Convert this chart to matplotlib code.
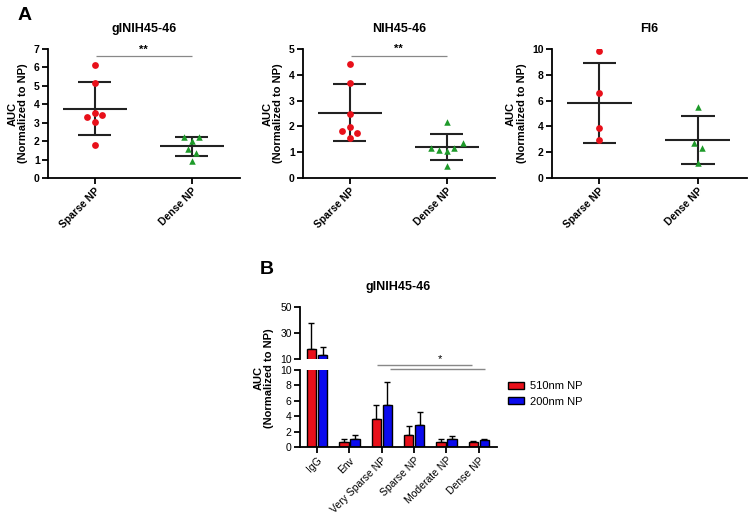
import numpy as np
import matplotlib
matplotlib.use("Agg")
import matplotlib.pyplot as plt
from matplotlib.patches import Patch

plt.rcParams['font.family'] = ['Liberation Sans', 'DejaVu Sans']

RED = "#e8101a"
GREEN = "#1e9a2a"
BLUE = "#0b0bee"

# --- Panel A data ---
groups = ["Sparse NP", "Dense NP"]
titles_a = ["gINIH45-46", "NIH45-46", "FI6"]

ginih_sparse = [6.13, 5.18, 3.52, 3.33, 3.42, 3.03, 1.78]
ginih_dense = [2.22, 2.20, 2.00, 1.60, 1.37, 0.94]
nih_sparse = [4.42, 3.70, 2.49, 1.97, 1.84, 1.75, 1.55]
nih_dense = [2.16, 1.35, 1.16, 1.07, 1.03, 1.16, 0.48]
fi6_sparse = [9.87, 6.62, 3.87, 2.96]
fi6_dense = [5.52, 2.70, 2.29, 1.16]

# horizontal scatter offsets of the dots (layout only)
ginih_sparse_dx = [0, 0, 0, -0.08, 0.08, 0, 0]
ginih_dense_dx = [-0.08, 0.08, 0, -0.04, 0.045, 0]
nih_sparse_dx = [0, 0, 0, 0, -0.08, 0.08, 0]
nih_dense_dx = [0, 0.165, -0.155, -0.08, 0, 0.08, 0]
fi6_sparse_dx = [0, 0, 0, 0]
fi6_dense_dx = [0, -0.035, 0.045, 0]

ymax_a = [7, 5, 10]
ystep_a = [1, 1, 2]
sig_a = ["**", "**", None]
sig_y = [6.6, 4.73, None]

# --- Panel B data ---
cats_b = ["IgG", "Env", "Very Sparse NP", "Sparse NP", "Moderate NP", "Dense NP"]
np510 = [17.5, 0.6, 3.6, 1.55, 0.7, 0.6]
np510_err = [20.4, 0.4, 1.9, 1.15, 0.4, 0.2]
np200 = [13.0, 1.0, 5.45, 2.8, 1.1, 0.85]
np200_err = [6.5, 0.5, 3.05, 1.8, 0.3, 0.15]

fig = plt.figure(figsize=(7.55, 5.15), dpi=100)
W, H = 755, 515


def px_axes(x0, y0, x1, y1):
    return fig.add_axes([x0 / W, 1 - y1 / H, (x1 - x0) / W, (y1 - y0) / H])


def style_axes(ax, bold=True):
    for s in ["top", "right"]:
        ax.spines[s].set_visible(False)
    for s in ["left", "bottom"]:
        ax.spines[s].set_linewidth(1.3)
    ax.tick_params(width=1.3, length=4, labelsize=7.5, pad=2)
    if bold:
        for lab in ax.get_yticklabels():
            lab.set_fontweight("bold")


# --- Panel A ---
data_a = [(ginih_sparse, ginih_dense, ginih_sparse_dx, ginih_dense_dx),
          (nih_sparse, nih_dense, nih_sparse_dx, nih_dense_dx),
          (fi6_sparse, fi6_dense, fi6_sparse_dx, fi6_dense_dx)]
lefts = [48, 303, 552]
rights = [240, 495, 747]

for i, (sp, de, spdx, dedx) in enumerate(data_a):
    ax = px_axes(lefts[i], 49, rights[i], 178)
    for j, (vals, dx, col, mk) in enumerate([(sp, spdx, RED, "o"), (de, dedx, GREEN, "^")]):
        vals = np.array(vals)
        m = vals.mean()
        sd = vals.std(ddof=1)
        ax.scatter(j + np.array(dx), vals, s=24 if mk == "o" else 22, marker=mk,
                   color=col, zorder=3, linewidths=0)
        ax.hlines(m, j - 0.33, j + 0.33, color="#222222", lw=1.5, zorder=2)
        ax.hlines([m - sd, m + sd], j - 0.17, j + 0.17, color="#222222", lw=1.5, zorder=2)
        ax.vlines(j, m - sd, m + sd, color="#222222", lw=1.5, zorder=2)
    ax.set_xlim(-0.48, 1.5)
    ax.set_ylim(0, ymax_a[i])
    ax.set_yticks(np.arange(0, ymax_a[i] + 0.1, ystep_a[i]))
    ax.set_xticks([0, 1])
    ax.set_xticklabels(groups, rotation=45, ha="right", rotation_mode="anchor",
                       fontweight="bold")
    style_axes(ax)
    ax.set_ylabel("AUC\n(Normalized to NP)", fontweight="bold", fontsize=8, labelpad=4,
                  linespacing=1.05)
    ax.set_title(titles_a[i], fontweight="bold", fontsize=9, pad=12)
    if sig_a[i]:
        ax.hlines(sig_y[i], 0.02, 1.0, color="#888888", lw=0.9, clip_on=False)
        ax.text(0.5, sig_y[i] + ymax_a[i] * 0.015, sig_a[i], ha="center", va="bottom",
                fontsize=8, fontweight="bold")

fig.text(18 / W, 1 - 15 / H, "A", fontsize=14, fontweight="bold", va="center")

# --- Panel B ---
x = np.arange(len(cats_b))
bw = 0.29
off = 0.17
ax_top = px_axes(300, 307, 497, 359)
ax_bot = px_axes(300, 370, 497, 447)

for ax in (ax_top, ax_bot):
    for vals, errs, col, sgn in [(np510, np510_err, RED, -1), (np200, np200_err, BLUE, 1)]:
        ax.bar(x + sgn * off, vals, width=bw, color=col, edgecolor="black", linewidth=1.0,
               zorder=2)
        ax.errorbar(x + sgn * off, vals, yerr=[np.zeros(len(vals)), errs], fmt="none",
                    ecolor="black", elinewidth=1.0, capsize=2.2, capthick=1.0, zorder=1)
    ax.set_xlim(-0.525, 5.56)
    style_axes(ax, bold=False)

ax_top.set_ylim(10, 50)
ax_top.set_yticks([10, 30, 50])
ax_top.spines["bottom"].set_visible(False)
ax_top.set_xticks([])

ax_bot.set_ylim(0, 10)
ax_bot.set_yticks(np.arange(0, 11, 2))
ax_bot.set_xticks(x)
ax_bot.set_xticklabels(cats_b, rotation=45, ha="right", rotation_mode="anchor")

# significance bars
ax_bot.hlines(10.6, 1.84, 4.79, color="#888888", lw=1.0, clip_on=False)
ax_bot.hlines(10.1, 2.24, 5.2, color="#888888", lw=1.0, clip_on=False)
ax_bot.text(3.8, 10.8, "*", ha="center", va="bottom", fontsize=8)

ax_top.set_title("gINIH45-46", fontweight="bold", fontsize=9, pad=12)
fig.text(264 / W, 1 - 378 / H, "AUC\n(Normalized to NP)", rotation=90, ha="center",
         va="center", fontweight="bold", fontsize=8, linespacing=1.05)
fig.text(260 / W, 1 - 269 / H, "B", fontsize=14, fontweight="bold", va="center")

handles = [Patch(facecolor=RED, edgecolor="black", lw=1.0),
           Patch(facecolor=BLUE, edgecolor="black", lw=1.0)]
fig.legend(handles, ["510nm NP", "200nm NP"], loc="center left",
           bbox_to_anchor=(498 / W, 1 - 394 / H), frameon=False, fontsize=8,
           handlelength=1.4, handleheight=0.6, handletextpad=0.6, labelspacing=0.5)

fig.savefig("out.png", dpi=100)
